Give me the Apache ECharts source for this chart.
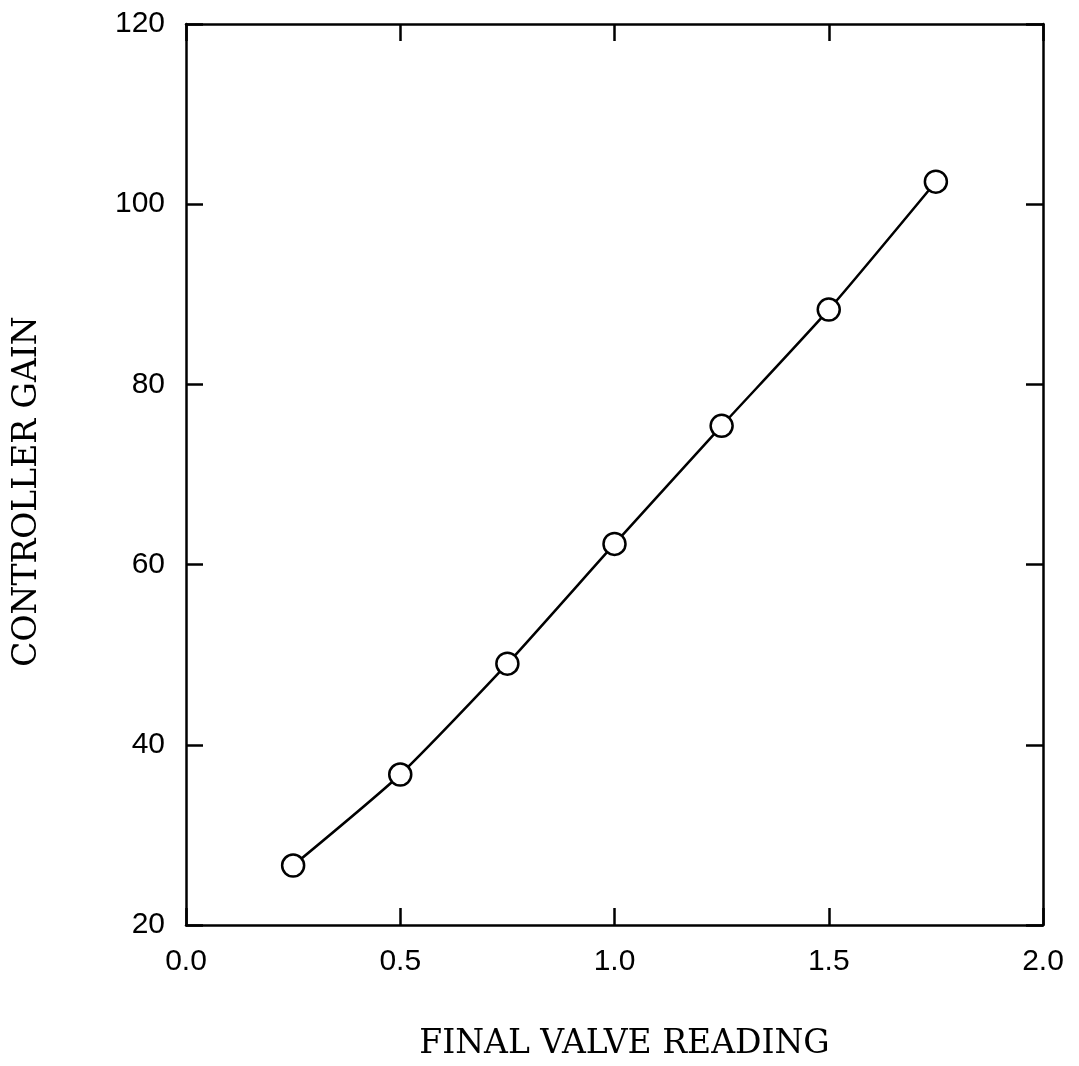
<!DOCTYPE html>
<html>
<head>
<meta charset="utf-8">
<script src="https://cdn.jsdelivr.net/npm/echarts@6/dist/echarts.min.js"></script>
<style>
  html, body { margin: 0; padding: 0; background: #fff; }
  #chart { width: 1079px; height: 1066px; }
</style>
</head>
<body>
<div id="chart"></div>
<script>
// values
var valveReading = [0.25, 0.5, 0.75, 1.0, 1.25, 1.5, 1.75];
var controllerGain = [26.6, 36.7, 49.0, 62.3, 75.4, 88.3, 102.5];

var xTitle = 'FINAL VALVE READING';
var yTitle = 'CONTROLLER GAIN';

var points = valveReading.map(function (v, i) { return [v, controllerGain[i]]; });

var tickFont = { color: '#000', fontFamily: 'Liberation Sans', fontSize: 30 };
var nameFamily = '"DejaVu Serif", "Liberation Serif", serif';
var axisLine = { show: true, onZero: false, lineStyle: { color: '#000', width: 2.5 } };
var axisTick = { show: true, inside: true, length: 17, lineStyle: { color: '#000', width: 2.5 } };

var option = {
  backgroundColor: '#fff',
  animation: false,
  grid: { left: 186, right: 36, top: 24, bottom: 141, outerBoundsMode: 'none' },
  xAxis: [
    {
      type: 'value',
      min: 0,
      max: 2,
      interval: 0.5,
      position: 'bottom',
      name: xTitle,
      nameLocation: 'middle',
      nameGap: 103,
      nameTextStyle: { color: '#000', fontFamily: nameFamily, fontSize: 33, padding: [0, 0, 0, 20] },
      axisLine: axisLine,
      axisTick: axisTick,
      splitLine: { show: false },
      axisLabel: Object.assign({
        margin: 22,
        formatter: function (v) { return v.toFixed(1); }
      }, tickFont)
    },
    {
      type: 'value',
      min: 0,
      max: 2,
      interval: 0.5,
      position: 'top',
      axisLine: axisLine,
      axisTick: axisTick,
      splitLine: { show: false },
      axisLabel: { show: false }
    }
  ],
  yAxis: [
    {
      type: 'value',
      min: 20,
      max: 120,
      interval: 20,
      position: 'left',
      name: yTitle,
      nameLocation: 'middle',
      nameGap: 142,
      nameTextStyle: { color: '#000', fontFamily: nameFamily, fontSize: 33, padding: [0, 34, 0, 0] },
      axisLine: axisLine,
      axisTick: axisTick,
      splitLine: { show: false },
      axisLabel: Object.assign({ margin: 21 }, tickFont)
    },
    {
      type: 'value',
      min: 20,
      max: 120,
      interval: 20,
      position: 'right',
      axisLine: axisLine,
      axisTick: axisTick,
      splitLine: { show: false },
      axisLabel: { show: false }
    }
  ],
  series: [
    {
      type: 'line',
      data: points,
      smooth: 0.2,
      symbol: 'circle',
      symbolSize: 22,
      lineStyle: { color: '#000', width: 2.5 },
      itemStyle: { color: '#fff', borderColor: '#000', borderWidth: 2.5 },
      z: 3
    }
  ]
};

var myChart = echarts.init(document.getElementById('chart'));
myChart.setOption(option);
</script>
</body>
</html>
